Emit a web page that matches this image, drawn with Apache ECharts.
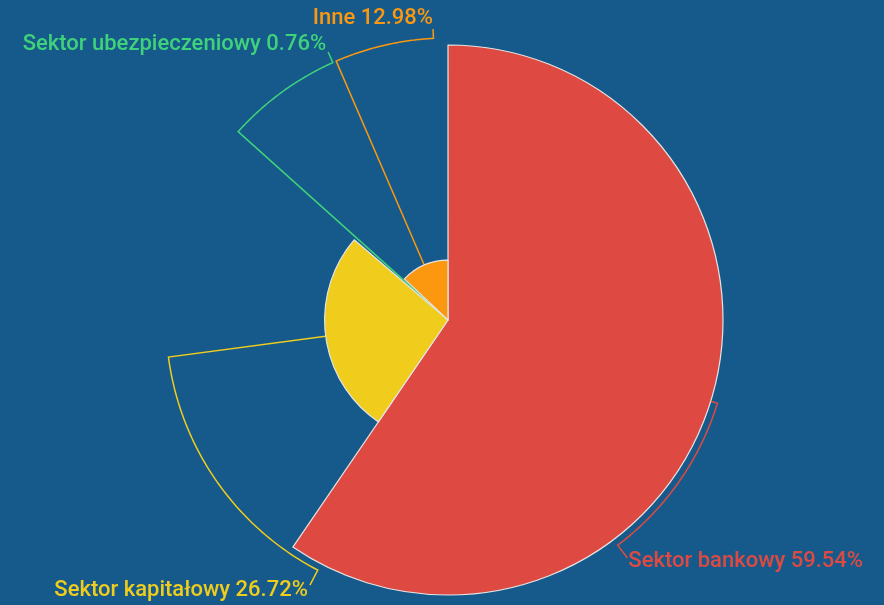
<!DOCTYPE html>
<html>
<head>
<meta charset="utf-8">
<script src="https://cdn.jsdelivr.net/npm/echarts@6/dist/echarts.min.js"></script>
<style>
html,body{margin:0;padding:0;background:#165a8b;}
#chart{width:884px;height:605px;}
</style>
</head>
<body>
<div id="chart"></div>
<script>
// ---- data ----
const categories = ['Sektor bankowy', 'Sektor kapitałowy', 'Sektor ubezpieczeniowy', 'Inne'];
const shares = [59.54, 26.72, 0.76, 12.98];
const colors = ['#de4a42', '#f0cd1c', '#3fd27a', '#fb980f'];

// ---- layout (pixels / degrees, clockwise from 12 o'clock) ----
const CX = 448, CY = 320, R_MAX = 275, R_LINE = 282;
const anchorAngle = [143, 207.5, 335.9, 357.05];
const anchorRadius = [298, 299, 293.6, 291.4];
const labelOffset = [[1, 4], [-2, 5], [-2, -7], [0, -10]];
const labelAlign = ['left', 'right', 'right', 'right'];

function pt(angleDeg, r) {
  const a = angleDeg * Math.PI / 180;
  return [CX + r * Math.sin(a), CY - r * Math.cos(a)];
}
const total = shares.reduce((s, v) => s + v, 0);
const maxShare = Math.max(...shares);
const midAngles = [];
(function () {
  let acc = 0;
  shares.forEach(v => {
    const span = v / total * 360;
    midAngles.push(acc + span / 2);
    acc += span;
  });
})();

const chart = echarts.init(document.getElementById('chart'), null, {renderer: 'canvas'});
chart.setOption({
  backgroundColor: '#165a8b',
  animation: false,
  series: [{
    type: 'pie',
    roseType: 'radius',
    center: [CX, CY],
    radius: [0, R_MAX],
    startAngle: 90,
    clockwise: true,
    data: categories.map((c, i) => ({
      name: c,
      value: shares[i],
      itemStyle: {color: colors[i]},
      label: {color: colors[i]},
      labelLine: {lineStyle: {color: colors[i]}}
    })),
    itemStyle: {borderColor: '#e4e4e4', borderWidth: 1.2},
    label: {
      show: true,
      formatter: p => p.name + ' ' + p.value.toFixed(2) + '%',
      fontFamily: 'Roboto',
      fontSize: 22,
      fontWeight: 500,
      overflow: 'none',
      width: 400
    },
    labelLine: {show: true, smooth: false, length: 10, length2: 10, lineStyle: {width: 1.5}},
    labelLayout: function (params) {
      const i = params.dataIndex;
      const mid = midAngles[i];
      const rSec = R_MAX * shares[i] / maxShare;
      const anchor = pt(anchorAngle[i], anchorRadius[i]);
      const pts = [pt(mid, rSec), pt(mid, R_LINE)];
      const steps = 60;
      const a0 = mid, a1 = anchorAngle[i];
      for (let k = 1; k <= steps; k++) {
        pts.push(pt(a0 + (a1 - a0) * k / steps, R_LINE));
      }
      pts.push(anchor);
      return {
        x: anchor[0] + labelOffset[i][0],
        y: anchor[1] + labelOffset[i][1],
        align: labelAlign[i],
        verticalAlign: 'middle',
        labelLinePoints: pts
      };
    }
  }]
});
</script>
</body>
</html>
